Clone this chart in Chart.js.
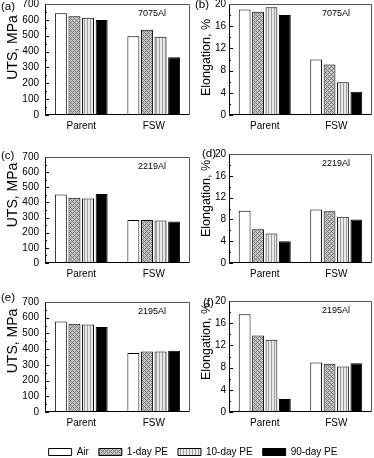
<!DOCTYPE html>
<html>
<head>
<meta charset="utf-8">
<script src="https://cdn.jsdelivr.net/npm/chart.js@4"></script>
<style>
  body { margin: 0; background: #fff; }
  #wrap { position: relative; width: 374px; height: 458px; overflow: hidden; }
  canvas { position: absolute; }
</style>
</head>
<body>
<div id="wrap">
  <canvas id="pa" width="193" height="153" style="left:0;top:-8px"></canvas>
  <canvas id="pb" width="181" height="153" style="left:193px;top:-8px"></canvas>
  <canvas id="pc" width="193" height="145" style="left:0;top:145px"></canvas>
  <canvas id="pd" width="181" height="145" style="left:193px;top:145px"></canvas>
  <canvas id="pe" width="193" height="140" style="left:0;top:290px"></canvas>
  <canvas id="pf" width="181" height="140" style="left:193px;top:290px"></canvas>
  <canvas id="leg" width="374" height="60" style="left:0;top:437px"></canvas>
</div>
<script>
// categorias e séries
const categorias = ['Parent', 'FSW'];
const series = ['Air', '1-day PE', '10-day PE', '90-day PE'];

// valores, na ordem das séries
const uts7075Parent = [641, 623, 613, 599];
const uts7075Fsw = [497, 538, 494, 364];
const along7075Parent = [19.0, 18.6, 19.4, 18.0];
const along7075Fsw = [10.0, 9.1, 5.9, 4.2];

const uts2219Parent = [452, 431, 426, 455];
const uts2219Fsw = [284, 284, 280, 274];
const along2219Parent = [9.6, 6.2, 5.4, 4.0];
const along2219Fsw = [9.8, 9.5, 8.5, 8.0];

const uts2195Parent = [576, 562, 557, 541];
const uts2195Fsw = [376, 385, 385, 390];
const along2195Parent = [17.6, 13.8, 13.0, 2.35];
const along2195Fsw = [8.9, 8.7, 8.2, 8.8];

const fonte = '"Liberation Sans", Arial, sans-serif';

// padrões de preenchimento das barras
function padraoCruzado() {
    const c = document.createElement('canvas');
    c.width = 4; c.height = 4;
    const g = c.getContext('2d');
    for (let x = 0; x < 4; x++) {
        for (let y = 0; y < 4; y++) {
            const escuro = (x + y) % 4 === 0 || (x - y + 4) % 4 === 0;
            g.fillStyle = escuro ? '#7c7c7c' : '#c4c4c4';
            g.fillRect(x, y, 1, 1);
        }
    }
    return g.createPattern(c, 'repeat');
}

function padraoVertical() {
    const c = document.createElement('canvas');
    c.width = 3; c.height = 1;
    const g = c.getContext('2d');
    g.fillStyle = '#e8e8e8';
    g.fillRect(0, 0, 3, 1);
    g.fillStyle = '#a0a0a0';
    g.fillRect(0, 0, 1, 1);
    return g.createPattern(c, 'repeat');
}

const cores = ['#ffffff', padraoCruzado(), padraoVertical(), '#000000'];

// moldura, ticks menores e textos do painel
const decoracao = {
    id: 'decoracao',
    afterDraw(chart, args, o) {
        const { ctx, chartArea: a, scales: { y } } = chart;
        ctx.save();
        ctx.lineWidth = 1;
        ctx.strokeStyle = '#000';
        // ticks para dentro
        let n = 0;
        for (let v = y.min; v <= y.max + 1e-9; v += o.passoMenor, n++) {
            const py = Math.round(y.getPixelForValue(v)) + 0.5;
            const len = n % 2 === 0 ? 4 : 2;
            ctx.beginPath();
            ctx.moveTo(a.left, py);
            ctx.lineTo(a.left + len, py);
            ctx.stroke();
        }
        // eixos esquerdo e inferior
        const l = Math.round(a.left) + 0.5, r = Math.round(a.right) - 0.5;
        const t = Math.round(a.top) + 0.5, b = Math.round(a.bottom) - 0.5;
        ctx.beginPath();
        ctx.moveTo(l, t); ctx.lineTo(l, b); ctx.lineTo(r, b);
        ctx.stroke();
        ctx.strokeStyle = '#555';
        ctx.beginPath();
        ctx.moveTo(l, t); ctx.lineTo(r, t); ctx.lineTo(r, b);
        ctx.stroke();

        ctx.fillStyle = '#000';
        ctx.textBaseline = 'middle';
        ctx.font = '11.5px ' + fonte;
        ctx.fillText(o.letra, o.letraPos[0], a.top + o.letraPos[1]);
        ctx.font = '9px ' + fonte;
        ctx.fillText(o.liga, a.left + 93, a.top + 10);

        // título do eixo y
        ctx.translate(o.tituloX, (a.top + a.bottom) / 2 + o.tituloDy);
        ctx.rotate(-Math.PI / 2);
        ctx.textAlign = 'center';
        ctx.font = o.tituloFonte + 'px ' + fonte;
        ctx.fillText(o.titulo, 0, 0);
        ctx.restore();
    }
};

function criarPainel(id, parent, fsw, cfg) {
    const datasets = series.map((nome, i) => ({
        label: nome,
        data: [parent[i], fsw[i]],
        backgroundColor: cores[i],
        borderColor: '#000',
        borderWidth: 1,
        categoryPercentage: 0.75,
        barPercentage: 0.88
    }));

    const canvas = document.getElementById(id);
    new Chart(canvas.getContext('2d'), {
        type: 'bar',
        data: { labels: categorias, datasets: datasets },
        options: {
            responsive: false,
            animation: false,
            devicePixelRatio: 1,
            layout: { padding: { top: cfg.topo, right: cfg.direita, left: 0, bottom: 0 } },
            plugins: {
                legend: { display: false },
                tooltip: { enabled: false },
                decoracao: cfg.deco
            },
            scales: {
                x: {
                    grid: { display: false, drawTicks: false },
                    border: { display: false },
                    ticks: { color: '#000', padding: 5, font: { family: fonte, size: 10 } },
                    afterFit: s => { s.height = cfg.alturaX; }
                },
                y: {
                    min: 0,
                    max: cfg.max,
                    grid: { display: false, drawTicks: false },
                    border: { display: false },
                    ticks: { stepSize: cfg.passo, autoSkip: false, color: '#000', padding: cfg.padY, font: { family: fonte, size: 10 } },
                    afterFit: s => { s.width = cfg.larguraY; }
                }
            }
        },
        plugins: [decoracao]
    });
}

const esquerda = { direita: 3, larguraY: 45, padY: 6, max: 700, passo: 100 };
const direita = { direita: 2, larguraY: 36, padY: 3, max: 20, passo: 4 };

criarPainel('pa', uts7075Parent, uts7075Fsw, Object.assign({}, esquerda, {
    topo: 12, alturaX: 30,
    deco: { letra: '(a)', letraPos: [1, 3], liga: '7075Al', titulo: 'UTS, MPa', tituloX: 13, tituloDy: -12, tituloFonte: 14, passoMenor: 50 }
}));
criarPainel('pb', along7075Parent, along7075Fsw, Object.assign({}, direita, {
    topo: 12, alturaX: 30,
    deco: { letra: '(b)', letraPos: [2, 1], liga: '7075Al', titulo: 'Elongation, %', tituloX: 14, tituloDy: -2, tituloFonte: 12.5, passoMenor: 2 }
}));
criarPainel('pc', uts2219Parent, uts2219Fsw, Object.assign({}, esquerda, {
    topo: 8, alturaX: 27,
    deco: { letra: '(c)', letraPos: [1, -1], liga: '2219Al', titulo: 'UTS, MPa', tituloX: 13, tituloDy: -15, tituloFonte: 14, passoMenor: 50 }
}));
criarPainel('pd', along2219Parent, along2219Fsw, Object.assign({}, direita, {
    topo: 8, alturaX: 27,
    deco: { letra: '(d)', letraPos: [9, 0], liga: '2219Al', titulo: 'Elongation, %', tituloX: 14, tituloDy: -10, tituloFonte: 12.5, passoMenor: 2 }
}));
criarPainel('pe', uts2195Parent, uts2195Fsw, Object.assign({}, esquerda, {
    topo: 11, alturaX: 18,
    deco: { letra: '(e)', letraPos: [1, -4], liga: '2195Al', titulo: 'UTS, MPa', tituloX: 13, tituloDy: -16, tituloFonte: 14, passoMenor: 50 }
}));
criarPainel('pf', along2195Parent, along2195Fsw, Object.assign({}, direita, {
    topo: 11, alturaX: 18,
    deco: { letra: '(f)', letraPos: [10, 2], liga: '2195Al', titulo: 'Elongation, %', tituloX: 14, tituloDy: -15, tituloFonte: 12.5, passoMenor: 2 }
}));

// legenda comum na parte de baixo
new Chart(document.getElementById('leg').getContext('2d'), {
    type: 'bar',
    data: {
        labels: [],
        datasets: series.map((nome, i) => ({
            label: nome, data: [], backgroundColor: cores[i], borderColor: '#000', borderWidth: 1
        }))
    },
    options: {
        responsive: false,
        animation: false,
        devicePixelRatio: 1,
        layout: { padding: { left: 12, right: 0 } },
        scales: { x: { display: false }, y: { display: false } },
        plugins: {
            tooltip: { enabled: false },
            legend: {
                position: 'top',
                onClick: null,
                labels: {
                    boxWidth: 23, boxHeight: 7, padding: 10, color: '#000',
                    font: { family: fonte, size: 10 }
                }
            }
        }
    }
});
</script>
</body>
</html>
